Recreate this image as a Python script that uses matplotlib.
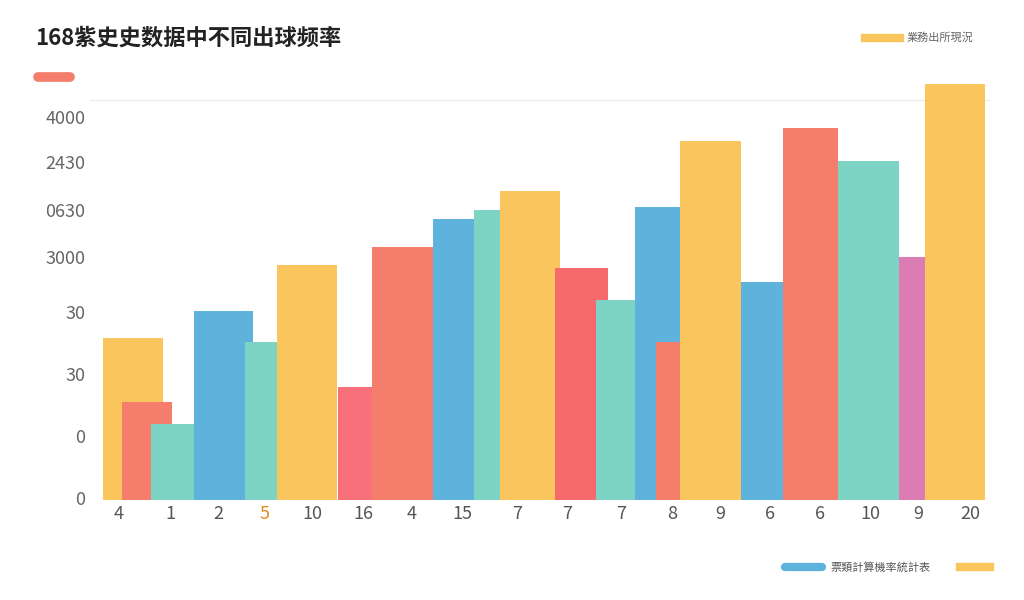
import matplotlib.pyplot as plt

plt.rcParams['font.family'] = ['Noto Sans CJK SC', 'DejaVu Sans']

YELLOW, RED, TEAL, BLUE, PINK = '#fbc55e', '#f47d6c', '#7dd3c4', '#5db3dc', '#dc7cb4'

# bar data
bar_values = [1620, 980, 760, 1890, 1580, 2350, 1130, 2530, 2810, 2900, 3090,
              2320, 2000, 2930, 1580, 3590, 2180, 3720, 3390, 2430, 4160]
bar_colors = [YELLOW, RED, TEAL, BLUE, TEAL, YELLOW, '#f8707a', RED, BLUE, TEAL, YELLOW,
              '#f66a6e', TEAL, BLUE, RED, YELLOW, BLUE, RED, TEAL, PINK, YELLOW]
# layout: left edge / width in figure pixels
bar_left = [103, 122, 151, 194, 245, 277, 338, 372, 433, 474, 500,
            555, 596, 635, 656, 680, 741, 783, 838, 899, 925]
bar_width = [60, 50, 43, 59, 44, 60, 42, 61, 42, 26, 60,
             53, 60, 45, 42, 61, 42, 55, 61, 41, 60]

x_labels = ['4', '1', '2', '5', '10', '16', '4', '15', '7', '7', '7', '8', '9', '6', '6', '10', '9', '20']
x_label_pos = [119, 170, 218, 265, 312, 363, 412, 462, 517, 567, 621, 672, 720, 770, 820, 870, 918, 970]
y_labels = ['0', '0', '30', '30', '3000', '0630', '2430', '4000']
y_label_val = [20, 640, 1260, 1880, 2430, 2900, 3380, 3830]

fig = plt.figure(figsize=(10.24, 6), dpi=100)
ax = fig.add_axes([90 / 1024, 100 / 600, 900 / 1024, 420 / 600])
ax.set_xlim(90, 990)
ax.set_ylim(0, 4200)

ax.bar(bar_left, bar_values, width=bar_width, align='edge', color=bar_colors, zorder=2)
ax.axhline(4000, color='#eeeeee', lw=1, zorder=0)

for s in ax.spines.values():
    s.set_visible(False)
ax.tick_params(length=0)
ax.set_xticks(x_label_pos)
ax.set_xticklabels(x_labels, fontsize=13, color='#555555')
ax.get_xticklabels()[3].set_color('#e58a1f')
ax.set_yticks(y_label_val)
ax.set_yticklabels(y_labels, fontsize=13, color='#666666')

fig.text(35 / 1024, 1 - 38 / 600, '168紫史史数据中不同出球频率', fontsize=16, fontweight='bold',
         va='center', color='#222222')
fig.add_artist(plt.Line2D([38 / 1024, 70 / 1024], [1 - 77 / 600] * 2, color=RED, lw=7,
                          solid_capstyle='round'))
fig.add_artist(plt.Line2D([865 / 1024, 900 / 1024], [1 - 38 / 600] * 2, color=YELLOW, lw=6))
fig.text(907 / 1024, 1 - 38 / 600, '業務出所現況', fontsize=8, va='center', color='#666666')
fig.add_artist(plt.Line2D([785 / 1024, 822 / 1024], [1 - 567 / 600] * 2, color=BLUE, lw=6,
                          solid_capstyle='round'))
fig.text(830 / 1024, 1 - 567 / 600, '票類計算機率統計表', fontsize=8, va='center', color='#555555')
fig.add_artist(plt.Line2D([960 / 1024, 990 / 1024], [1 - 567 / 600] * 2, color=YELLOW, lw=6))

fig.savefig('out.png', dpi=100, facecolor='white')
